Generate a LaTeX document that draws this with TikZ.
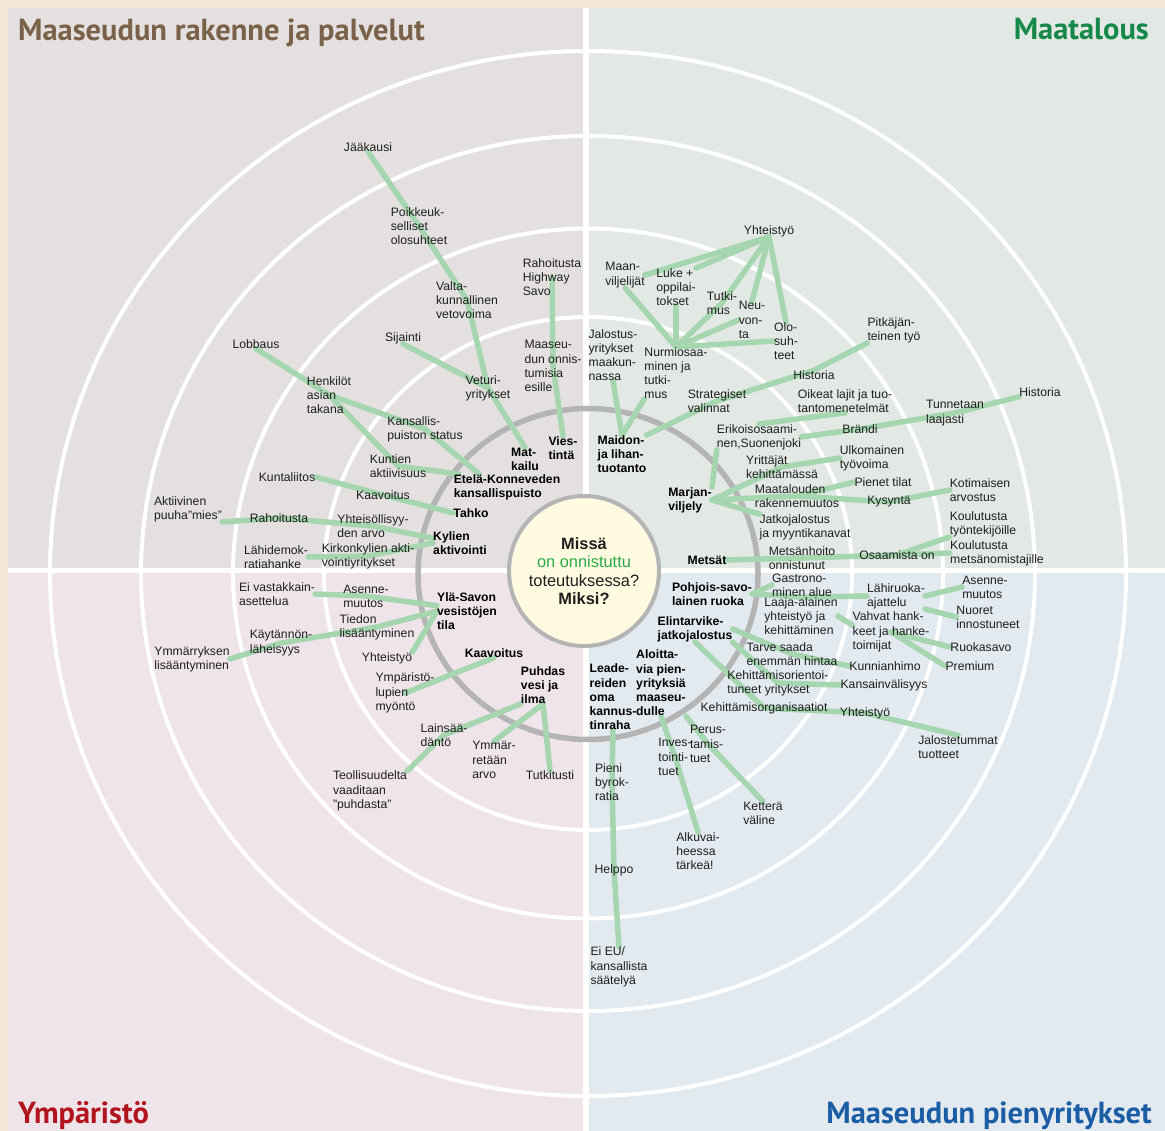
\documentclass[tikz,border=0pt]{standalone}
\usepackage{fontspec}
\setmainfont{Liberation Sans}
\newfontfamily\titlefont{PT Sans}
\pgfdeclarelayer{back}
\pgfdeclarelayer{lines}
\pgfsetlayers{back,lines,main}
\definecolor{beige}{HTML}{F4E7D7}
\definecolor{qtl}{HTML}{E4E0DF}
\definecolor{qtr}{HTML}{E2E8E3}
\definecolor{qbl}{HTML}{EEE4EA}
\definecolor{qbr}{HTML}{E2E9EF}
\definecolor{conn}{HTML}{A6D6AF}
\definecolor{txt}{HTML}{1E1E1E}
\definecolor{ringgrey}{HTML}{B4B4B4}
\definecolor{cream}{HTML}{FEFBE1}
\definecolor{ctrgreen}{HTML}{2EA84A}
\definecolor{tbrown}{HTML}{7A6149}
\definecolor{tgreen}{HTML}{16894A}
\definecolor{tred}{HTML}{B2141E}
\definecolor{tblue}{HTML}{1B5DA5}
\tikzset{
  lbl/.style={font=\fontsize{12.2}{14.2}\selectfont, align=left, inner sep=0pt, text=txt},
  blbl/.style={lbl, font=\fontsize{12.2}{14.2}\selectfont\bfseries, text=black},
  conline/.style={draw=conn, line width=5.5pt, line cap=round, line join=round},
  ring/.style={draw=white, line width=4pt},
  qtitle/.style={font=\titlefont\bfseries\fontsize{30.5}{32}\selectfont, inner sep=0pt},
}
\begin{document}
\begin{tikzpicture}[x=1pt,y=-1pt]
\useasboundingbox (0,0) rectangle (1165,1131);
\begin{pgfonlayer}{back}
\fill[beige] (0,0) rectangle (1165,1131);
\fill[qtl] (8,8) rectangle (586,571);
\fill[qtr] (586,8) rectangle (1165,571);
\fill[qbl] (8,571) rectangle (586,1131);
\fill[qbr] (586,571) rectangle (1165,1131);
\foreach \rx/\ry in {264/256.5, 355/345, 447/437.5, 538/522.5}
  \draw[ring] (588,573.5) ellipse [x radius=\rx pt, y radius=\ry pt];
\draw[white, line width=6pt] (586,8) -- (586,1131);
\draw[white, line width=5pt] (8,570.5) -- (1165,570.5);
\draw[ringgrey, line width=5.5pt] (588,574) ellipse [x radius=170pt, y radius=165.5pt];
\end{pgfonlayer}

% centre
\node[circle, draw=ringgrey, line width=4pt, fill=cream, minimum size=150pt, inner sep=0pt,
      align=center, font=\fontsize{16.4}{18.3}\selectfont, text=txt] (ctr) at (584,571)
  {\textbf{Missä}\\\textcolor{ctrgreen}{on onnistuttu}\\toteutuksessa?\\\textbf{Miksi?}};

% titles
\node[qtitle, text=tbrown, anchor=base west] (t1) at (18,41) {Maaseudun rakenne ja palvelut};
\node[qtitle, text=tgreen, anchor=base east] (t2) at (1149,40) {Maatalous};
\node[qtitle, text=tred, anchor=base west] (t3) at (18,1123) {Ympäristö};
\node[qtitle, text=tblue, anchor=base east] (t4) at (1152,1123) {Maaseudun pienyritykset};

% ---- top left
\node[lbl] (jaak) at (368,147) {Jääkausi};
\node[lbl] (poik) at (419,226) {Poikkeuk-\\selliset\\olosuhteet};
\node[lbl] (valta) at (467,300) {Valta-\\kunnallinen\\vetovoima};
\node[lbl] (sij) at (403,338) {Sijainti};
\node[lbl] (vet) at (488,388) {Veturi-\\yritykset};
\node[blbl] (matk) at (525,459) {Mat-\\kailu};
\node[blbl] (vies) at (563,448) {Vies-\\tintä};
\node[lbl] (rahh) at (552,277) {Rahoitusta\\Highway\\Savo};
\node[lbl] (maas) at (553,366) {Maaseu-\\dun onnis-\\tumisia\\esille};
\node[lbl] (lobb) at (256,344) {Lobbaus};
\node[lbl] (henk) at (329,395) {Henkilöt\\asian\\takana};
\node[lbl] (kans) at (425,429) {Kansallis-\\puiston status};
\node[lbl] (kunt) at (398,466) {Kuntien\\aktiivisuus};
\node[blbl] (etel) at (507,487) {Etelä-Konneveden\\kansallispuisto};
\node[lbl] (kliit) at (287,477) {Kuntaliitos};
\node[lbl] (kaav1) at (383,495) {Kaavoitus};
\node[blbl] (tahko) at (471,513) {Tahko};
\node[lbl] (akt) at (188,509) {Aktiivinen\\puuha”mies”};
\node[lbl] (rah2) at (279,518) {Rahoitusta};
\node[lbl] (yhts) at (373,526) {Yhteisöllisyy-\\den arvo};
\node[blbl] (kyl) at (460,543) {Kylien\\aktivointi};
\node[lbl] (lahi) at (276,557) {Lähidemok-\\ratiahanke};
\node[lbl] (kirk) at (368,556) {Kirkonkylien akti-\\vointiyritykset};

% ---- top right
\node[lbl] (yht) at (769,231) {Yhteistyö};
\node[lbl] (maan) at (625,275) {Maan-\\viljelijät};
\node[lbl] (luke) at (676,287) {Luke +\\oppilai-\\tokset};
\node[lbl] (tutk) at (722,303) {Tutki-\\mus};
\node[lbl] (neuv) at (752,320) {Neu-\\von-\\ta};
\node[lbl] (olo) at (786,341) {Olo-\\suh-\\teet};
\node[lbl] (jal) at (613,355) {Jalostus-\\yritykset\\maakun-\\nassa};
\node[lbl] (nurmi) at (676,373) {Nurmiosaa-\\minen ja\\tutki-\\mus};
\node[blbl] (maid) at (622,454) {Maidon-\\ja lihan-\\tuotanto};
\node[lbl] (strat) at (717,401) {Strategiset\\valinnat};
\node[lbl] (pitk) at (894,330) {Pitkäjän-\\teinen työ};
\node[lbl] (hist1) at (814,375) {Historia};
\node[lbl] (oik) at (845,401) {Oikeat lajit ja tuo-\\tantomenetelmät};
\node[lbl] (eriko) at (759,437) {Erikoisosaami-\\nen,Suonenjoki};
\node[lbl] (brandi) at (860,429) {Brändi};
\node[lbl] (tunn) at (955,413) {Tunnetaan\\laajasti};
\node[lbl] (hist2) at (1040,392) {Historia};
\node[lbl] (yritt) at (782,467) {Yrittäjät\\kehittämässä};
\node[lbl] (ulko) at (872,458) {Ulkomainen\\työvoima};
\node[lbl] (pien) at (883,482) {Pienet tilat};
\node[lbl] (maat) at (797,496) {Maatalouden\\rakennemuutos};
\node[lbl] (kys) at (889,502) {Kysyntä};
\node[lbl] (koti) at (980,490) {Kotimaisen\\arvostus};
\node[lbl] (jatk) at (805,527) {Jatkojalostus\\ja myyntikanavat};
\node[blbl] (marj) at (690,500) {Marjan-\\viljely};
\node[blbl] (mets) at (707,560) {Metsät};
\node[lbl] (metsh) at (802,558) {Metsänhoito\\onnistunut};
\node[lbl] (osaa) at (897,555) {Osaamista on};
\node[lbl] (kout) at (983,524) {Koulutusta\\työntekijöille};
\node[lbl] (koum) at (997,553) {Koulutusta\\metsänomistajille};

% ---- bottom left
\node[lbl] (eiv) at (277,594) {Ei vastakkain-\\asettelua};
\node[lbl] (asen1) at (366,596) {Asenne-\\muutos};
\node[blbl] (ylas) at (467,611) {Ylä-Savon\\vesistöjen\\tila};
\node[lbl] (tied) at (377,627) {Tiedon\\lisääntyminen};
\node[lbl] (kayt) at (281,643) {Käytännön-\\läheisyys};
\node[lbl] (ymm) at (192,659) {Ymmärryksen\\lisääntyminen};
\node[lbl] (yht2) at (387,658) {Yhteistyö};
\node[blbl] (kaav2) at (494,653) {Kaavoitus};
\node[lbl] (ympl) at (405,693) {Ympäristö-\\lupien\\myöntö};
\node[blbl] (puhd) at (543,685) {Puhdas\\vesi ja\\ilma};
\node[lbl] (lains) at (444,735) {Lainsää-\\däntö};
\node[lbl] (teol) at (370,791) {Teollisuudelta\\vaaditaan\\”puhdasta”};
\node[lbl] (ymmr) at (494,760) {Ymmär-\\retään\\arvo};
\node[lbl] (tutki) at (550,775) {Tutkitusti};

% ---- bottom right
\node[blbl] (pohj) at (712,594) {Pohjois-savo-\\lainen ruoka};
\node[lbl] (gast) at (802,585) {Gastrono-\\minen alue};
\node[lbl] (laaja) at (801,616) {Laaja-alainen\\yhteistyö ja\\kehittäminen};
\node[lbl] (lahir) at (896,596) {Lähiruoka-\\ajattelu};
\node[lbl] (asen2) at (985,587) {Asenne-\\muutos};
\node[lbl] (nuor) at (988,617) {Nuoret\\innostuneet};
\node[lbl] (vahv) at (891,632) {Vahvat hank-\\keet ja hanke-\\toimijat};
\node[lbl] (ruok) at (981,647) {Ruokasavo};
\node[lbl] (prem) at (970,666) {Premium};
\node[blbl] (elin) at (695,629) {Elintarvike-\\jatkojalostus};
\node[lbl] (tarve) at (792,654) {Tarve saada\\enemmän hintaa};
\node[lbl] (kunn) at (885,666) {Kunnianhimo};
\node[lbl] (kehor) at (778,683) {Kehittämisorientoi-\\tuneet yritykset};
\node[lbl] (kans2) at (884,685) {Kansainvälisyys};
\node[lbl] (kehorg) at (764,708) {Kehittämisorganisaatiot};
\node[lbl] (yht3) at (865,713) {Yhteistyö};
\node[lbl] (jalt) at (958,747) {Jalostetummat\\tuotteet};
\node[blbl] (aloi) at (661,683) {Aloitta-\\via pien-\\yrityksiä\\maaseu-\\dulle};
\node[blbl] (lead) at (613,697) {Leade-\\reiden\\oma\\kannus-\\tinraha};
\node[lbl] (inves) at (675,757) {Inves-\\tointi-\\tuet};
\node[lbl] (perus) at (708,744) {Perus-\\tamis-\\tuet};
\node[lbl] (kett) at (763,813) {Ketterä\\väline};
\node[lbl] (alku) at (698,851) {Alkuvai-\\heessa\\tärkeä!};
\node[lbl] (pieni) at (612,782) {Pieni\\byrok-\\ratia};
\node[lbl] (helppo) at (614,870) {Helppo};
\node[lbl] (eieu) at (619,967) {Ei EU/\\kansallista\\säätelyä};

\begin{pgfonlayer}{lines}
% top left
\draw[conline] (jaak.south) -- (poik.center) -- (valta.center) -- (vet.center) -- (matk.north);
\draw[conline] (sij.south) -- (vet.center);
\draw[conline] (rahh.center) -- (maas.center) -- (vies.north);
\draw[conline] (lobb.south) -- (henk.center) -- (kans.center) -- (etel.155);
\draw[conline] (henk.center) -- (kunt.center) -- (etel.165);
\draw[conline] (kliit.east) -- (kaav1.center) -- (tahko.west);
\draw[conline] (akt.south east) -- (rah2.center) -- (yhts.center) -- (kyl.170);
\draw[conline] (lahi.east) -- (kirk.center) -- (kyl.west);
% top right
\draw[conline] (yht.south) -- (maan.east);
\draw[conline] (yht.south) -- (luke.north east);
\draw[conline] (yht.south) -- (tutk.center) -- (nurmi.north);
\draw[conline] (yht.south) -- (neuv.north);
\draw[conline] (yht.south) -- (olo.north);
\draw[conline] (nurmi.north) -- (maan.south);
\draw[conline] (nurmi.north) -- (luke.south);
\draw[conline] (nurmi.north) -- (neuv.west);
\draw[conline] (nurmi.north) -- (olo.west);
\draw[conline] (jal.south) -- (maid.north);
\draw[conline] (nurmi.south west) -- (maid.north);
\draw[conline] (maid.north east) -- (strat.center) -- (hist1.north) -- (pitk.south west);
\draw[conline] (marj.north east) -- (eriko.south west);
\draw[conline] (eriko.north) -- (oik.south);
\draw[conline] (eriko.east) -- (brandi.center) -- (tunn.center) -- (hist2.south west);
\draw[conline] (marj.east) -- (yritt.center) -- (ulko.west);
\draw[conline] (marj.east) -- (maat.center) -- (pien.west);
\draw[conline] (maat.center) -- (kys.center) -- (koti.west);
\draw[conline] (marj.east) -- (jatk.north west);
\draw[conline] (mets.east) -- (metsh.center) -- (osaa.center) -- (koum.west);
\draw[conline] (osaa.center) -- (kout.south west);
% bottom left
\draw[conline] (eiv.east) -- (asen1.center) -- (ylas.170);
\draw[conline] (ymm.east) -- (kayt.center) -- (tied.center) -- (ylas.west);
\draw[conline] (yht2.north east) -- (ylas.west);
\draw[conline] (ympl.center) -- (kaav2.south);
\draw[conline] (teol.north east) -- (lains.center) -- (puhd.south west);
\draw[conline] (ymmr.north) -- (puhd.south);
\draw[conline] (tutki.north) -- (puhd.south);
% bottom right
\draw[conline] (pohj.east) -- (gast.west);
\draw[conline] (pohj.east) -- (laaja.north) -- (lahir.west);
\draw[conline] (laaja.east) -- (vahv.170);
\draw[conline] (lahir.east) -- (asen2.west);
\draw[conline] (lahir.south east) -- (nuor.west);
\draw[conline] (vahv.center) -- (ruok.west);
\draw[conline] (vahv.center) -- (prem.west);
\draw[conline] (elin.east) -- (tarve.center) -- (kunn.west);
\draw[conline] (elin.south east) -- (kehor.center) -- (kans2.west);
\draw[conline] (elin.south) -- (kehorg.center) -- (yht3.center) -- (jalt.north);
\draw[conline] (aloi.south) -- (inves.center) -- (alku.north);
\draw[conline] (aloi.south east) -- (perus.center) -- (kett.north);
\draw[conline] (lead.south) -- (pieni.center) -- (helppo.center) -- (eieu.north);
\end{pgfonlayer}
\end{tikzpicture}
\end{document}
